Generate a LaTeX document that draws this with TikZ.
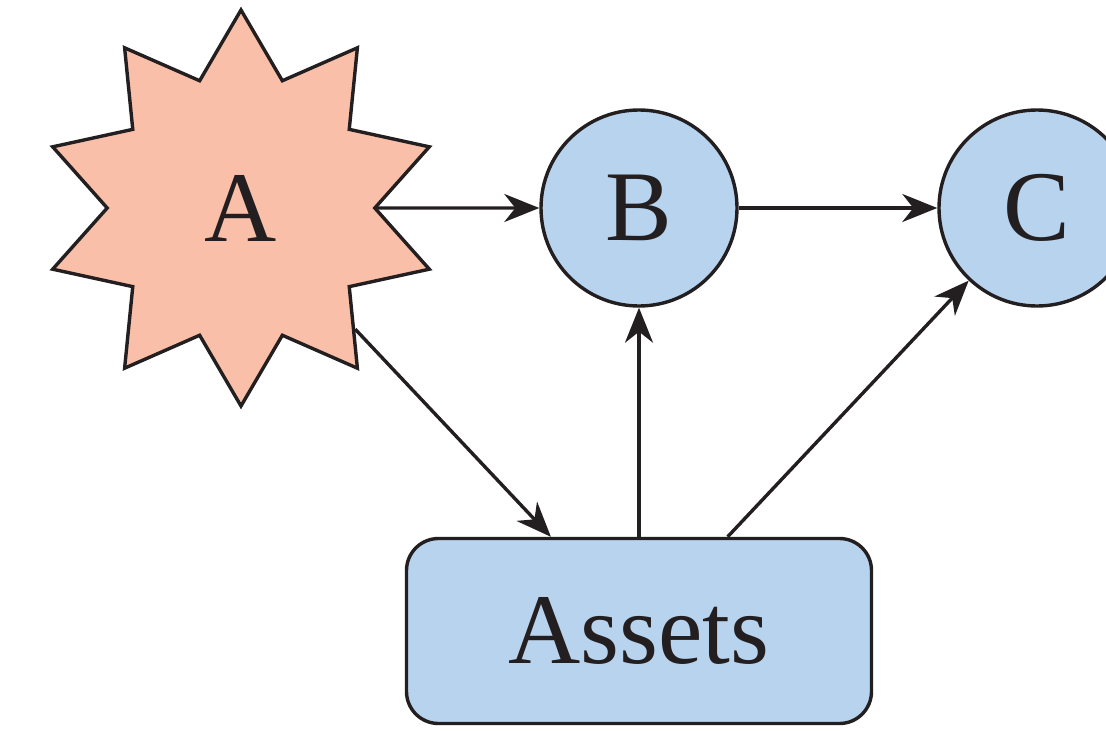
\documentclass[tikz,border=0pt]{standalone}
\usepackage{fontspec}
\setmainfont{Liberation Serif}
\usetikzlibrary{shapes.geometric,arrows.meta}
\definecolor{starfill}{HTML}{F9BFA8}
\definecolor{nodefill}{HTML}{B8D3EE}
\definecolor{inkc}{HTML}{231F20}
\tikzset{
  base/.style={draw=inkc, line width=3.4pt, text=inkc, inner sep=0pt, font=\fontsize{100}{105}\selectfont},
  starnode/.style={base, star, star points=10, star point ratio=1.48, minimum size=396pt, fill=starfill},
  circnode/.style={base, circle, minimum size=196pt, fill=nodefill},
  boxnode/.style={base, rectangle, rounded corners=32pt, minimum width=465pt, minimum height=185pt, fill=nodefill},
  conn/.style={draw=inkc, line width=3.4pt, -{Stealth[length=35pt, width=28pt, inset=11pt]}}
}
\begin{document}
\begin{tikzpicture}[x=1pt, y=-1pt]
\useasboundingbox (0,0) rectangle (1106,731);
\node[starnode] (A) at (241,208) {A};
\node[circnode] (B) at (639,208) {B};
\node[circnode] (C) at (1037,208) {C};
\node[boxnode] (S) at (639,631) {Assets};
\draw[conn] (A) -- (B);
\draw[conn] (B) -- (C);
\draw[conn] (A) -- (S);
\draw[conn] (S) -- (B);
\draw[conn] (S) -- (C);
\end{tikzpicture}
\end{document}
